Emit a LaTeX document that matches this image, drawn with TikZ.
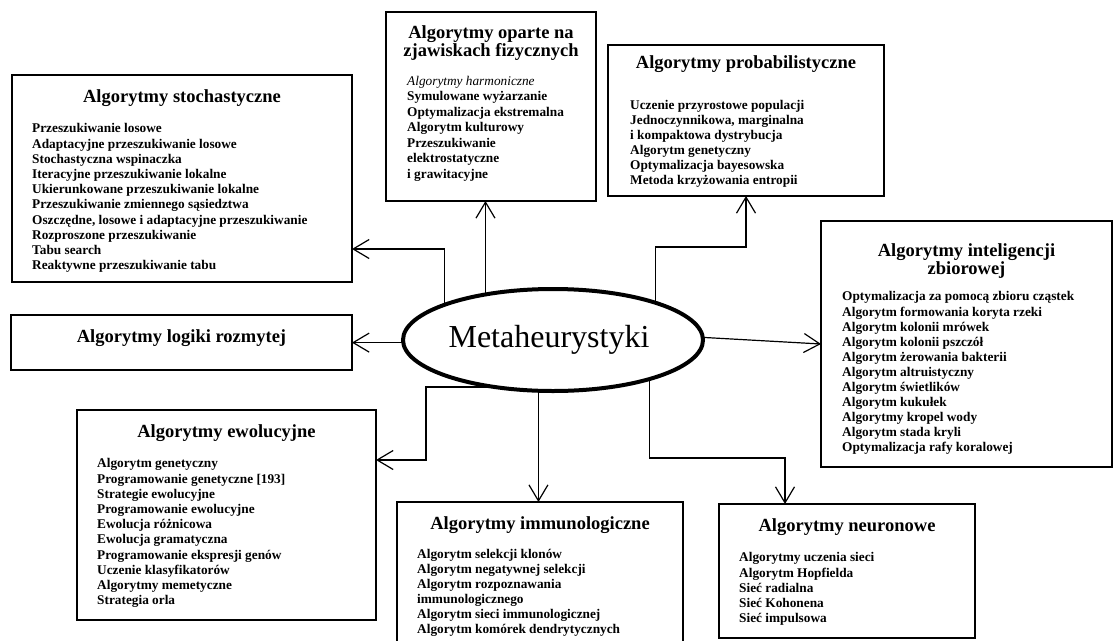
\documentclass[tikz,border=0pt]{standalone}
\usepackage{fontspec}
\setmainfont{Liberation Serif}
\usetikzlibrary{arrows.meta,shapes.geometric,fit}

\begin{document}
\begin{tikzpicture}[x=1pt,y=-1pt,
  box/.style={draw, line width=1.2pt, inner sep=0pt, outer sep=0pt},
  head/.style={font=\fontsize{18.5pt}{18pt}\selectfont\bfseries, align=center, inner sep=0pt},
  list/.style={font=\fontsize{13.3pt}{15.2pt}\selectfont\bfseries, align=left, anchor=north west, inner sep=0pt},
  conn/.style={line width=1.2pt, -{Straight Barb[length=16pt,width=19pt]}},
]
\clip (0,0) rectangle (1116,640);

% central ellipse
\node[ellipse, draw, line width=4pt, minimum width=300pt, minimum height=102pt,
      inner sep=0pt, outer sep=0pt, font=\fontsize{32pt}{32pt}\selectfont] (meta) at (553,340) {\hspace*{-8pt}Metaheurystyki};

% stochastic algorithms
\node[box, fit={(12,75) (352,282)}] (stoch) {};
\node[head] (stochT) at (182,98) {Algorytmy stochastyczne};
\node[list] (stochL) at (32,123.5) {Przeszukiwanie losowe\\Adaptacyjne przeszukiwanie losowe\\Stochastyczna wspinaczka\\Iteracyjne przeszukiwanie lokalne\\Ukierunkowane przeszukiwanie lokalne\\Przeszukiwanie zmiennego sąsiedztwa\\Oszczędne, losowe i adaptacyjne przeszukiwanie\\Rozproszone przeszukiwanie\\Tabu search\\Reaktywne przeszukiwanie tabu};

% physics-based algorithms
\node[box, fit={(386,12) (596,201)}] (fiz) {};
\node[head] (fizT) at (491,43) {Algorytmy oparte na\\zjawiskach fizycznych};
\node[list, font=\fontsize{13.3pt}{15.5pt}\selectfont\bfseries] (fizL) at (407,76) {{\mdseries\itshape Algorytmy harmoniczne}\\Symulowane wyżarzanie\\Optymalizacja ekstremalna\\Algorytm kulturowy\\Przeszukiwanie\\elektrostatyczne\\i grawitacyjne};

% probabilistic algorithms
\node[box, fit={(608,45) (884,196)}] (prob) {};
\node[head] (probT) at (746,64) {Algorytmy probabilistyczne};
\node[list, font=\fontsize{13.3pt}{15pt}\selectfont\bfseries] (probL) at (630,100.5) {Uczenie przyrostowe populacji\\Jednoczynnikowa, marginalna\\i kompaktowa dystrybucja\\Algorytm genetyczny\\Optymalizacja bayesowska\\Metoda krzyżowania entropii};

% swarm intelligence
\node[box, fit={(821,221) (1112,467)}] (intel) {};
\node[head] (intelT) at (966.5,261) {Algorytmy inteligencji\\zbiorowej};
\node[list, font=\fontsize{13.3pt}{15.1pt}\selectfont\bfseries] (intelL) at (842,291.5) {Optymalizacja za pomocą zbioru cząstek\\Algorytm formowania koryta rzeki\\Algorytm kolonii mrówek\\Algorytm kolonii pszczół\\Algorytm żerowania bakterii\\Algorytm altruistyczny\\Algorytm świetlików\\Algorytm kukułek\\Algorytmy kropel wody\\Algorytm stada kryli\\Optymalizacja rafy koralowej};

% fuzzy logic
\node[box, fit={(11,315) (352,370)}] (logic) {};
\node[head] (logicT) at (181.5,338) {Algorytmy logiki rozmytej};

% evolutionary algorithms
\node[box, fit={(77,410) (376,620)}] (evol) {};
\node[head] (evolT) at (226.5,433) {Algorytmy ewolucyjne};
\node[list] (evolL) at (97,458.5) {Algorytm genetyczny\\Programowanie genetyczne [193]\\Strategie ewolucyjne\\Programowanie ewolucyjne\\Ewolucja różnicowa\\Ewolucja gramatyczna\\Programowanie ekspresji genów\\Uczenie klasyfikatorów\\Algorytmy memetyczne\\Strategia orla};

% immune algorithms
\node[box, fit={(397,502) (683,660)}] (immu) {};
\node[head] (immuT) at (540,525) {Algorytmy immunologiczne};
\node[list, font=\fontsize{13.3pt}{15pt}\selectfont\bfseries] (immuL) at (417,549.5) {Algorytm selekcji klonów\\Algorytm negatywnej selekcji\\Algorytm rozpoznawania\\immunologicznego\\Algorytm sieci immunologicznej\\Algorytm komórek dendrytycznych};

% neural algorithms
\node[box, fit={(719,504) (975,638)}] (neuro) {};
\node[head] (neuroT) at (847,527) {Algorytmy neuronowe};
\node[list, font=\fontsize{13.3pt}{15.25pt}\selectfont\bfseries] (neuroL) at (739,552.5) {Algorytmy uczenia sieci\\Algorytm Hopfielda\\Sieć radialna\\Sieć Kohonena\\Sieć impulsowa};

% bend points of the connectors
\coordinate (j1) at (442,249);
\coordinate (j3) at (746,247);
\coordinate (j6) at (426,460);
\coordinate (j8) at (785,458);

% connectors
\draw[conn] (meta.162.8) |- (j1 -| stoch.east);
\draw[conn] (meta.146.2) -- (meta.146.2 |- fiz.south);
\draw[conn] (meta.20.5) |- (j3) -- (j3 |- prob.south);
\draw[conn] (meta.181.1) -- (meta.181.1 -| logic.east);
\draw[conn] (meta.1) -- (intel.west);
\draw[conn] (meta.219) -| (j6) -- (j6 -| evol.east);
\draw[conn] (meta.254.6) -- (meta.254.6 |- immu.north);
\draw[conn] (meta.338.9) |- (j8) -- (j8 |- neuro.north);
\end{tikzpicture}
\end{document}
